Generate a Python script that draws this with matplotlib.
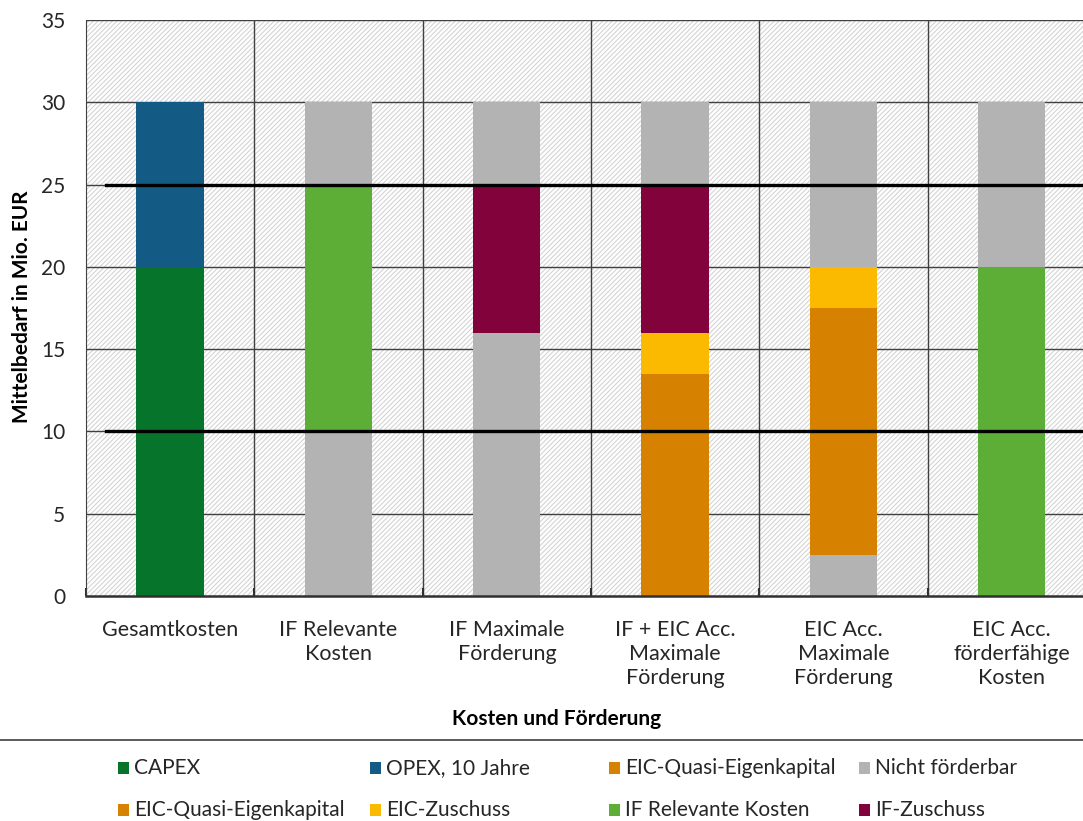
import matplotlib
matplotlib.use("Agg")
import matplotlib.pyplot as plt
from matplotlib.patches import Rectangle
from matplotlib.lines import Line2D

plt.rcParams['font.family'] = ['Lato', 'DejaVu Sans']
plt.rcParams['hatch.color'] = '#d4d4d4'
plt.rcParams['hatch.linewidth'] = 0.8

categories = ["Gesamtkosten", "IF Relevante\nKosten", "IF Maximale\nFörderung",
              "IF + EIC Acc.\nMaximale\nFörderung", "EIC Acc.\nMaximale\nFörderung",
              "EIC Acc.\nförderfähige\nKosten"]

# stacked segments, bottom to top
nicht_foerderbar_unten = [0, 10, 16, 0, 2.5, 0]
capex = [20, 0, 0, 0, 0, 0]
eic_quasi = [0, 0, 0, 13.5, 15, 0]
eic_zuschuss = [0, 0, 0, 2.5, 2.5, 0]
if_relevant = [0, 15, 0, 0, 0, 20]
if_zuschuss = [0, 0, 9, 9, 0, 0]
opex = [10, 0, 0, 0, 0, 0]
nicht_foerderbar_oben = [0, 5, 5, 5, 10, 10]

ref_lines = [25, 10]
yticks = [0, 5, 10, 15, 20, 25, 30, 35]

colors = {
    "CAPEX": "#06752B",
    "OPEX, 10 Jahre": "#135B84",
    "EIC-Quasi-Eigenkapital": "#D68100",
    "Nicht förderbar": "#B3B3B3",
    "EIC-Zuschuss": "#FBBA00",
    "IF Relevante Kosten": "#5DAE37",
    "IF-Zuschuss": "#82033C",
}

stack = [
    (nicht_foerderbar_unten, "Nicht förderbar"),
    (capex, "CAPEX"),
    (eic_quasi, "EIC-Quasi-Eigenkapital"),
    (eic_zuschuss, "EIC-Zuschuss"),
    (if_relevant, "IF Relevante Kosten"),
    (if_zuschuss, "IF-Zuschuss"),
    (opex, "OPEX, 10 Jahre"),
    (nicht_foerderbar_oben, "Nicht förderbar"),
]

W, H = 1083, 821
fig = plt.figure(figsize=(W / 100, H / 100), dpi=100)
ax = fig.add_axes([86 / W, 1 - 596 / H, 1010 / W, 576 / H])

n = len(categories)
x = list(range(n))
ax.set_xlim(-0.5, n - 0.5)
ax.set_ylim(0, 35)

# hatched background
ax.add_patch(Rectangle((0, 0), 1, 1, transform=ax.transAxes, facecolor='white',
                       hatch='///////', edgecolor='#d4d4d4', linewidth=0, zorder=0))

# grid
for yv in yticks[1:]:
    ax.axhline(yv, color='#404040', lw=1.0, zorder=1)
for b in range(1, n):
    ax.axvline(b - 0.5, color='#404040', lw=1.0, zorder=1)

bottom = [0.0] * n
for vals, name in stack:
    ax.bar(x, vals, bottom=bottom, width=0.4, color=colors[name], zorder=2, linewidth=0)
    bottom = [b + v for b, v in zip(bottom, vals)]

for yv in ref_lines:
    ax.axhline(yv, xmin=0.02, xmax=1, color='black', lw=2.4, zorder=3)

for s in ['top', 'right']:
    ax.spines[s].set_visible(False)
ax.spines['left'].set_color('#404040')
ax.spines['bottom'].set_color('#303030')
ax.spines['bottom'].set_linewidth(1.8)

ax.set_yticks(yticks)
ax.set_yticklabels([str(v) for v in yticks], fontsize=15, color='#262626')
ax.tick_params(axis='y', length=0, pad=15)
ax.set_xticks(x)
ax.set_xticklabels(categories, fontsize=15.5, color='#262626', linespacing=1.25)
ax.tick_params(axis='x', length=0, pad=17)
ax.set_xticks([b - 0.5 for b in range(n + 1)], minor=True)
ax.tick_params(axis='x', which='minor', length=6, width=1.5, color='#303030', direction='in')

fig.text(22 / W, 1 - 307 / H, "Mittelbedarf in Mio. EUR", fontsize=15, fontweight='bold',
         rotation=90, ha='center', va='center')
fig.text(557 / W, 1 - 719 / H, "Kosten und Förderung", fontsize=15, fontweight='bold',
         ha='center', va='center')

# separator line above legend
fig.add_artist(Line2D([0, 1], [1 - 740 / H, 1 - 740 / H], transform=fig.transFigure,
                      color='#404040', lw=1.2))

legend_rows = [["CAPEX", "OPEX, 10 Jahre", "EIC-Quasi-Eigenkapital", "Nicht förderbar"],
               ["EIC-Quasi-Eigenkapital", "EIC-Zuschuss", "IF Relevante Kosten", "IF-Zuschuss"]]
col_x = [118, 370, 609, 859]
row_y = [768, 810]
for r, row in enumerate(legend_rows):
    for c, name in enumerate(row):
        xf = col_x[c] / W
        yf = 1 - row_y[r] / H
        fig.add_artist(Rectangle((xf, yf - 6 / H), 11 / W, 12 / H,
                                 transform=fig.transFigure, facecolor=colors[name], linewidth=0))
        fig.text(xf + 16 / W, yf, name, fontsize=15, color='#262626', va='center', ha='left')

fig.savefig("out.png", dpi=100)
